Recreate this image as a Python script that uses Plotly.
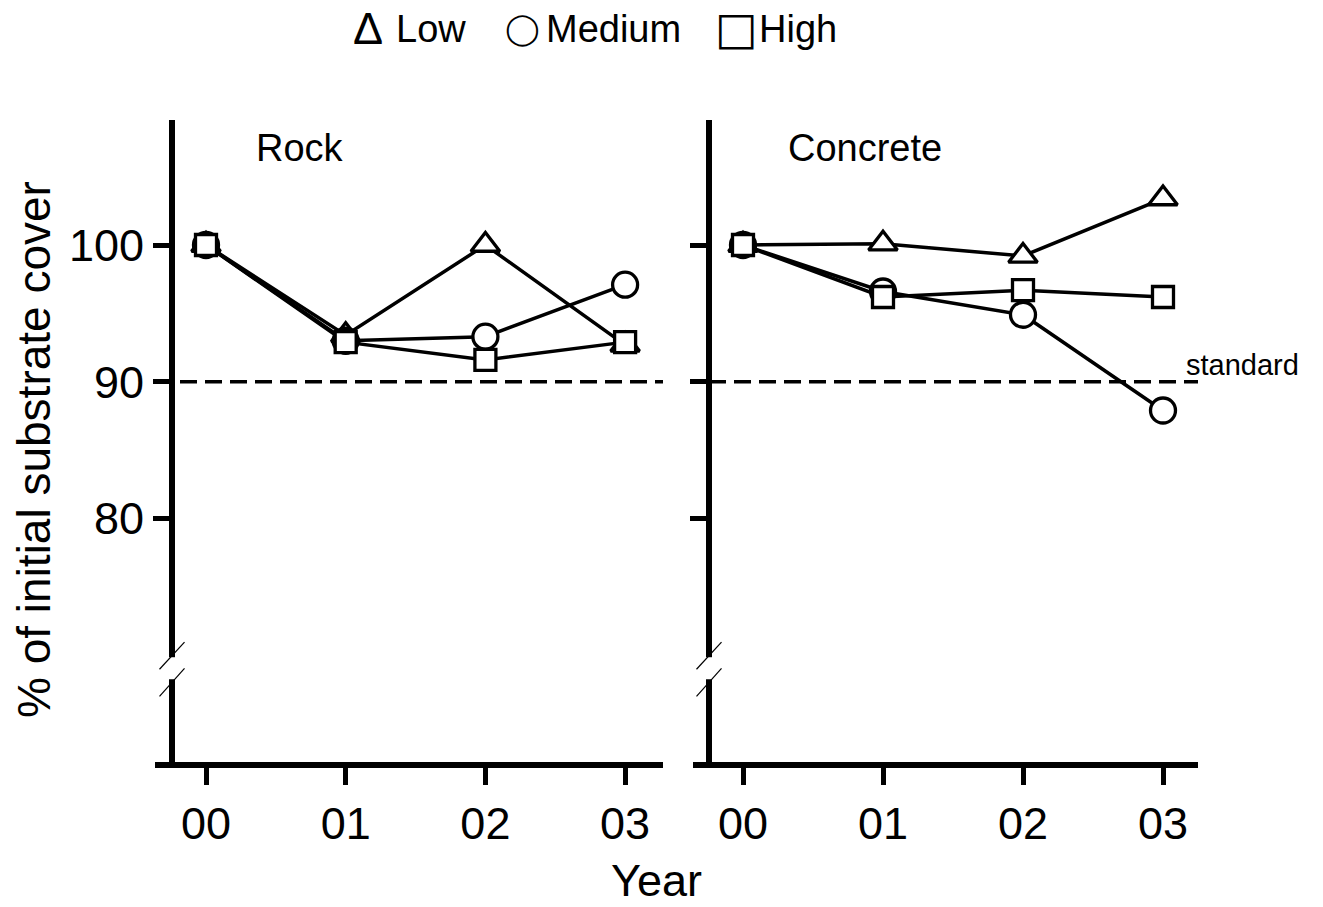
import plotly.graph_objects as go

# ---- data -------------------------------------------------------------
year_labels = ["00", "01", "02", "03"]
year_index = [0, 1, 2, 3]

rock_low = [100.0, 93.4, 100.0, 92.7]
rock_medium = [100.0, 93.0, 93.3, 97.1]
rock_high = [100.0, 92.9, 91.6, 92.9]

concrete_low = [100.0, 100.1, 99.2, 103.4]
concrete_medium = [100.0, 96.6, 94.9, 87.9]
concrete_high = [100.0, 96.2, 96.7, 96.2]

standard_level = 90
y_ticks = [80, 90, 100]
y_range = [62.2, 109.14]
break_lo, break_hi = 68.25, 69.86

# ---- page geometry (pixels) -------------------------------------------
W, H = 1323, 907
FONT = "Liberation Sans, Arial, sans-serif"
SYMBOL_FONT = "DejaVu Sans, Liberation Sans, sans-serif"


def px(x):
    return x / W


def py(y):
    return 1 - y / H


rock_dom = [px(155), px(663)]
conc_dom = [px(693), px(1198)]
rock_range = [(155 - 206) / 139.7, (663 - 206) / 139.7]
conc_range = [(693 - 743) / 140.0, (1198 - 743) / 140.0]
y_dom = [py(762), py(120)]
rock_axis_x = 172
conc_axis_x = 709

series = [
    ("Low", "triangle-up", 25, rock_low, concrete_low),
    ("Medium", "circle", 25, rock_medium, concrete_medium),
    ("High", "square", 21, rock_high, concrete_high),
]

fig = go.Figure()
for name, symbol, size, rock_vals, conc_vals in series:
    for vals, xa, ya in ((rock_vals, "x", "y"), (conc_vals, "x2", "y2")):
        fig.add_trace(go.Scatter(
            x=year_index, y=vals, name=name, xaxis=xa, yaxis=ya,
            mode="lines+markers", showlegend=False,
            line=dict(color="black", width=3.5),
            marker=dict(symbol=symbol, size=size, color="white",
                        line=dict(color="black", width=3.3)),
        ))

xaxis_common = dict(
    tickvals=year_index, ticktext=year_labels, ticks="outside", ticklen=17,
    tickwidth=5, tickcolor="black", showline=True, linewidth=6,
    linecolor="black", showgrid=False, zeroline=False,
    tickfont=dict(family=FONT, size=45, color="black"),
)
yaxis_common = dict(
    domain=y_dom, range=y_range, tickvals=y_ticks, ticks="outside",
    ticklen=16, tickwidth=5, tickcolor="black", showline=True, linewidth=6,
    linecolor="black", showgrid=False, zeroline=False, anchor="free",
    tickfont=dict(family=FONT, size=45, color="black"),
)

fig.update_layout(
    width=W, height=H, margin=dict(l=0, r=0, t=0, b=0),
    paper_bgcolor="white", plot_bgcolor="white",
    xaxis=dict(domain=rock_dom, range=rock_range, anchor="y", **xaxis_common),
    xaxis2=dict(domain=conc_dom, range=conc_range, anchor="y2", **xaxis_common),
    yaxis=dict(position=px(rock_axis_x), **yaxis_common),
    yaxis2=dict(position=px(conc_axis_x), matches="y", showticklabels=False,
                **yaxis_common),
)

shapes = []
# dashed standard line in each panel
shapes.append(dict(type="line", xref="x", yref="y", x0=rock_range[0],
                   x1=rock_range[1], y0=standard_level, y1=standard_level,
                   line=dict(color="black", width=3.5, dash="17px,8px")))
shapes.append(dict(type="line", xref="x2", yref="y2",
                   x0=(conc_axis_x - 743) / 140.0, x1=conc_range[1],
                   y0=standard_level, y1=standard_level,
                   line=dict(color="black", width=3.5, dash="17px,8px")))
# axis breaks
for ax_x, yref in ((rock_axis_x, "y"), (conc_axis_x, "y2")):
    shapes.append(dict(type="rect", xref="paper", yref=yref,
                       x0=px(ax_x - 6), x1=px(ax_x + 6),
                       y0=break_lo, y1=break_hi, layer="above",
                       fillcolor="white", line=dict(width=0)))
    for lo, hi in ((67.0, 69.05), (68.98, 70.96)):
        shapes.append(dict(type="line", xref="paper", yref=yref,
                           x0=px(ax_x - 12.5), x1=px(ax_x + 12.5),
                           y0=lo, y1=hi, layer="above",
                           line=dict(color="black", width=1.2)))
fig.update_layout(shapes=shapes)

annotations = [
    dict(text="Rock", x=px(254), y=py(148), xanchor="left", yanchor="middle",
         font=dict(size=38)),
    dict(text="Concrete", x=px(786), y=py(148), xanchor="left",
         yanchor="middle", font=dict(size=38)),
    dict(text="standard", x=px(1184), y=py(365), xanchor="left",
         yanchor="middle", font=dict(size=29)),
    dict(text="Year", x=px(656), y=0, xanchor="center", yanchor="bottom",
         borderpad=0, font=dict(size=45)),
    dict(text="% of initial substrate cover", x=px(34), y=py(450),
         xanchor="center", yanchor="middle", textangle=-90,
         font=dict(size=46)),
    # legend: symbol glyphs and labels
    dict(text="Δ", x=px(368), y=py(28), xanchor="center", yanchor="middle",
         font=dict(size=45)),
    dict(text="Low", x=px(394), y=py(29), xanchor="left", yanchor="middle",
         font=dict(size=38)),
    dict(text="◯", x=px(522), y=py(28), xanchor="center", yanchor="middle",
         font=dict(size=31, family=SYMBOL_FONT)),
    dict(text="Medium", x=px(544), y=py(29), xanchor="left",
         yanchor="middle", font=dict(size=38)),
    dict(text="□", x=px(736), y=py(28), xanchor="center", yanchor="middle",
         font=dict(size=45, family=SYMBOL_FONT)),
    dict(text="High", x=px(757), y=py(29), xanchor="left", yanchor="middle",
         font=dict(size=38)),
]
for a in annotations:
    a.update(xref="paper", yref="paper", showarrow=False)
    a["font"].setdefault("family", FONT)
    a["font"].update(color="black")
fig.update_layout(annotations=annotations)

fig.write_html("out.html")
